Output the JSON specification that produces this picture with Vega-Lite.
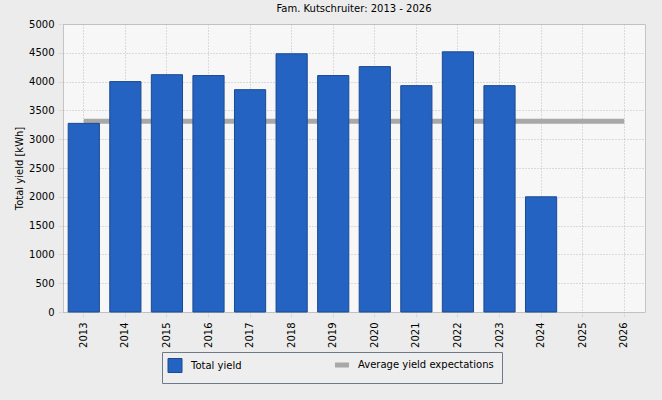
{
  "$schema": "https://vega.github.io/schema/vega-lite/v6.json",
  "width": 582,
  "height": 288,
  "autosize": "none",
  "padding": {"left": 63, "top": 24, "right": 17, "bottom": 88},
  "background": "#ECECEC",
  "title": {"text": "Fam. Kutschruiter: 2013 - 2026", "font": "DejaVu Sans", "fontSize": 10, "fontWeight": "normal", "color": "#000000", "offset": 5, "anchor": "middle"},
  "config": {
    "view": {"fill": "#F7F7F7", "stroke": "#C4C4C4"},
    "font": "DejaVu Sans",
    "axis": {
      "labelFont": "DejaVu Sans", "labelFontSize": 10, "labelColor": "#000000",
      "titleFont": "DejaVu Sans", "titleFontSize": 10, "titleFontWeight": "normal", "titleColor": "#000000",
      "gridColor": "#BDBDBD", "gridDash": [1, 2], "tickColor": "#BDBDBD", "tickDash": [1, 2],
      "tickSize": 6, "labelPadding": 3, "domain": false, "grid": true
    }
  },
  "data": {"values": [
    {"year": "2013", "yield": 3275, "expected": 3310},
    {"year": "2014", "yield": 4000, "expected": 3310},
    {"year": "2015", "yield": 4120, "expected": 3310},
    {"year": "2016", "yield": 4105, "expected": 3310},
    {"year": "2017", "yield": 3860, "expected": 3310},
    {"year": "2018", "yield": 4483, "expected": 3310},
    {"year": "2019", "yield": 4105, "expected": 3310},
    {"year": "2020", "yield": 4260, "expected": 3310},
    {"year": "2021", "yield": 3930, "expected": 3310},
    {"year": "2022", "yield": 4517, "expected": 3310},
    {"year": "2023", "yield": 3930, "expected": 3310},
    {"year": "2024", "yield": 2000, "expected": 3310},
    {"year": "2025", "yield": null, "expected": 3310},
    {"year": "2026", "yield": null, "expected": 3310}
  ]},
  "encoding": {
    "x": {
      "field": "year", "type": "ordinal",
      "scale": {"domain": ["2013","2014","2015","2016","2017","2018","2019","2020","2021","2022","2023","2024","2025","2026"], "paddingInner": 0.25, "paddingOuter": 0.125},
      "axis": {"title": null, "labelAngle": -90, "bandPosition": 0.5, "labelPadding": 4, "grid": true}
    }
  },
  "layer": [
    {
      "mark": {"type": "line", "color": "#A8A8A8", "strokeWidth": 5, "strokeCap": "butt"},
      "encoding": {
        "y": {"field": "expected", "type": "quantitative", "scale": {"domain": [0, 5000], "nice": false},
              "axis": {"title": "Total yield [kWh]", "tickCount": 10, "format": "d", "titlePadding": 4}}
      }
    },
    {
      "mark": {"type": "bar", "stroke": "#1B4A91", "strokeWidth": 1},
      "encoding": {
        "y": {"field": "yield", "type": "quantitative", "scale": {"domain": [0, 5000], "nice": false},
              "axis": {"title": "Total yield [kWh]", "tickCount": 10, "format": "d", "titlePadding": 4}},
        "color": {
          "datum": "Total yield",
          "scale": {"domain": ["Total yield", "Average yield expectations"], "range": ["#2463C1", "#A8A8A8"]},
          "legend": {
            "orient": "none", "legendX": 99, "legendY": 328, "direction": "horizontal", "title": null,
            "fillColor": "#EEEEEE", "strokeColor": "#6E7A88", "padding": 8,
            "symbolSize": 196, "labelFont": "DejaVu Sans", "labelFontSize": 10,
            "labelColor": "#000000", "labelOffset": 11, "columnPadding": 83, "symbolOpacity": 1,
            "symbolType": {"expr": "datum.value === 'Total yield' ? 'square' : 'stroke'"},
            "symbolStrokeColor": {"expr": "datum.value === 'Total yield' ? '#1B4A91' : '#A8A8A8'"},
            "symbolStrokeWidth": {"expr": "datum.value === 'Total yield' ? 1 : 5"}
          }
        }
      }
    }
  ]
}
